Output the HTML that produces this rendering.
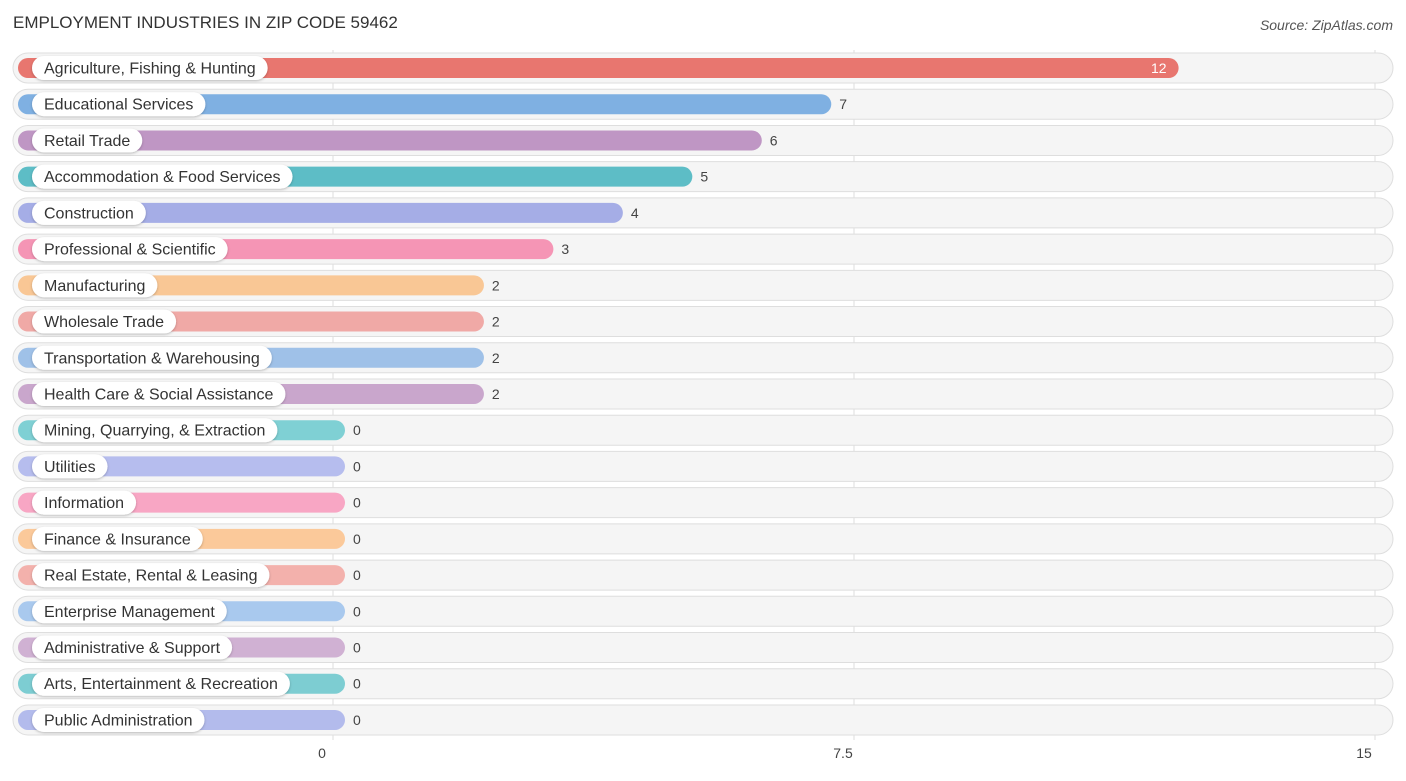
<!DOCTYPE html>
<html><head><meta charset="utf-8"><style>
body{margin:0;background:#fff;font-family:"Liberation Sans",sans-serif;}
svg text{font-family:"Liberation Sans",sans-serif;}
</style></head><body>
<svg id="chart" width="1406" height="776" xmlns="http://www.w3.org/2000/svg">
<defs><filter id="sh" x="-10%" y="-30%" width="120%" height="160%"><feDropShadow dx="0" dy="1" stdDeviation="1.2" flood-color="#000" flood-opacity="0.25"/></filter></defs>
<text x="13" y="28" font-size="17" fill="#333">EMPLOYMENT INDUSTRIES IN ZIP CODE 59462</text>
<text x="1393" y="30" font-size="14" fill="#555" text-anchor="end" font-style="italic">Source: ZipAtlas.com</text>
<g id="grid"></g><g id="rows"></g><g id="ticks"></g>
</svg>
<script>
const categories=["Agriculture, Fishing & Hunting","Educational Services","Retail Trade","Accommodation & Food Services","Construction","Professional & Scientific","Manufacturing","Wholesale Trade","Transportation & Warehousing","Health Care & Social Assistance","Mining, Quarrying, & Extraction","Utilities","Information","Finance & Insurance","Real Estate, Rental & Leasing","Enterprise Management","Administrative & Support","Arts, Entertainment & Recreation","Public Administration"];
const values=[12,7,6,5,4,3,2,2,2,2,0,0,0,0,0,0,0,0,0];
const colors=["#e8766f","#7fb0e2","#bf96c4","#5dbdc6","#a5ade6","#f595b5","#f9c795","#f0a9a6","#9fc1e8","#c9a6cc","#7fd0d4","#b6bdee","#f8a6c4","#fbc99a","#f3b1ac","#a9c9ee","#d0b1d3","#7dcdd2","#b3bbec"];
const tickVals=[0,7.5,15];
const tickLabels=["0","7.5","15"];
const NS="http://www.w3.org/2000/svg";
const x0=333,pxPer=(1375-333)/15;
function sx(v){return x0+v*pxPer;}
function sy(i){return 68+i*36.22;}
function mk(tag,attrs,parent){const e=document.createElementNS(NS,tag);for(const k in attrs)e.setAttribute(k,attrs[k]);parent.appendChild(e);return e;}
const grid=document.getElementById('grid'),rows=document.getElementById('rows'),ticks=document.getElementById('ticks');
tickVals.forEach((t,i)=>{
  const l=mk('line',{x1:sx(t),x2:sx(t),y1:50,y2:740,stroke:'#ddd','stroke-width':1},grid);
  
  
  const tx=mk('text',{x:sx(t)-11,y:758,'font-size':14,fill:'#444','text-anchor':'middle'},ticks);
  tx.textContent=tickLabels[i];
  
  
});
const meas=mk('text',{'font-size':16,x:-1000,y:-1000},rows);
categories.forEach((c,i)=>{
  const y=sy(i);
  const g=mk('g',{},rows);
  
  
  const bg=mk('rect',{x:13,y:y-15,width:1380,height:30,rx:15,fill:'#f5f5f5',stroke:'#dedede','stroke-width':1},g);
  
  
  const end=sx(values[i])+12;
  const b=mk('rect',{x:18,y:y-10,width:end-18,height:20,rx:10,fill:colors[i]},g);
  
  
  meas.textContent=c;
  const w=meas.getComputedTextLength();
  const p=mk('rect',{x:32,y:y-12,width:w+24,height:24,rx:12,fill:'#fff',filter:'url(#sh)'},g);
  
  
  const t=mk('text',{x:44,y:y+5.5,'font-size':16,fill:'#333'},g);
  t.textContent=c;
  
  
  const inside=values[i]>=10;
  const v=mk('text',{x:inside?end-12:end+8,y:y+5,'font-size':14,fill:inside?'#fff':'#444','text-anchor':inside?'end':'start'},g);
  v.textContent=values[i];
  
  
});
meas.remove();
</script>
</body></html>
